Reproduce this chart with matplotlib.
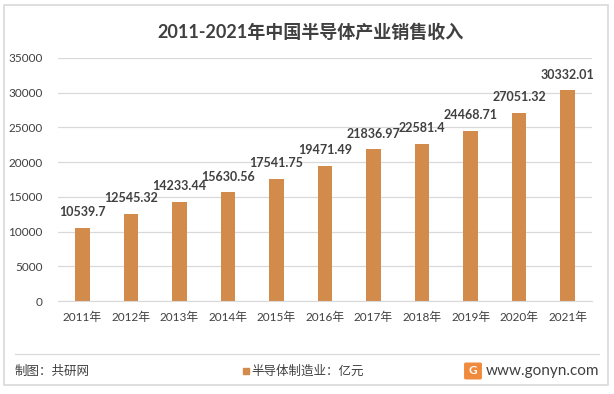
import matplotlib.pyplot as plt
from matplotlib.patches import Rectangle, FancyBboxPatch
from matplotlib.lines import Line2D

plt.rcParams['font.family'] = ['Lato', 'Noto Sans CJK SC', 'DejaVu Sans']

years = ['2011年', '2012年', '2013年', '2014年', '2015年', '2016年',
         '2017年', '2018年', '2019年', '2020年', '2021年']
sales = [10539.7, 12545.32, 14233.44, 15630.56, 17541.75, 19471.49,
         21836.97, 22581.4, 24468.71, 27051.32, 30332.01]
value_labels = ['10539.7', '12545.32', '14233.44', '15630.56', '17541.75', '19471.49',
                '21836.97', '22581.4', '24468.71', '27051.32', '30332.01']
yticks = [0, 5000, 10000, 15000, 20000, 25000, 30000, 35000]

BAR = '#D38B4C'
TXT = '#404040'
W, H = 614, 394


def fx(px):
    return px / W


def fy(py):
    return 1 - py / H


fig = plt.figure(figsize=(6.14, 3.94), dpi=100)
fig.patch.set_facecolor('white')

# outer frame
fig.add_artist(Rectangle((fx(4), fy(385)), fx(604), 380 / H,
                         transform=fig.transFigure, fill=False,
                         edgecolor='#D9D9D9', linewidth=1.2))

ax = fig.add_axes([fx(58), fy(301), fx(534), 243 / H])
x = list(range(len(years)))
ax.bar(x, sales, width=0.3, color=BAR, zorder=2)
for xi, v, lab in zip(x, sales, value_labels):
    ax.annotate(lab, (xi, v), xytext=(0, 7), textcoords='offset points',
                ha='center', va='bottom', fontsize=9, color=TXT, fontweight='bold')

ax.set_xlim(-0.5, len(years) - 0.5)
ax.set_ylim(0, 35000)
ax.set_yticks(yticks)
ax.set_yticklabels([str(t) for t in yticks])
ax.set_xticks(x)
ax.set_xticklabels(years)
ax.tick_params(axis='both', length=0, labelsize=8.5, colors=TXT)
ax.tick_params(axis='y', pad=11)
ax.tick_params(axis='x', pad=8)
ax.grid(axis='y', color='#D9D9D9', linewidth=0.9, zorder=0)
for s in ['top', 'right', 'left']:
    ax.spines[s].set_visible(False)
ax.spines['bottom'].set_color('#D9D9D9')

fig.text(fx(311), fy(32), '2011-2021年中国半导体产业销售收入', ha='center', va='center',
         fontsize=13, fontweight='bold', color=TXT)

# footer
fig.add_artist(Line2D([fx(15), fx(599)], [fy(354), fy(354)],
                      transform=fig.transFigure, color='#D9D9D9', linewidth=0.9))
ty = fy(371)
fig.text(fx(15), ty, '制图：共研网', ha='left', va='center', fontsize=9, color=TXT)
fig.add_artist(Rectangle((fx(243), ty - 3 / H), fx(6), 6 / H,
                         transform=fig.transFigure, color=BAR))
fig.text(fx(251), ty, '半导体制造业：亿元', ha='left', va='center', fontsize=9, color=TXT)
fig.add_artist(FancyBboxPatch((fx(466), ty - 7 / H), fx(14), 14 / H,
                              boxstyle='round,pad=0.002', transform=fig.transFigure,
                              color='#F08A3C'))
fig.text(fx(473), ty, 'G', ha='center', va='center', fontsize=8.5,
         color='white', fontweight='bold')
fig.text(fx(599), ty, 'www.gonyn.com', ha='right', va='center', fontsize=11, color=TXT)

fig.savefig('out.png', dpi=100)
